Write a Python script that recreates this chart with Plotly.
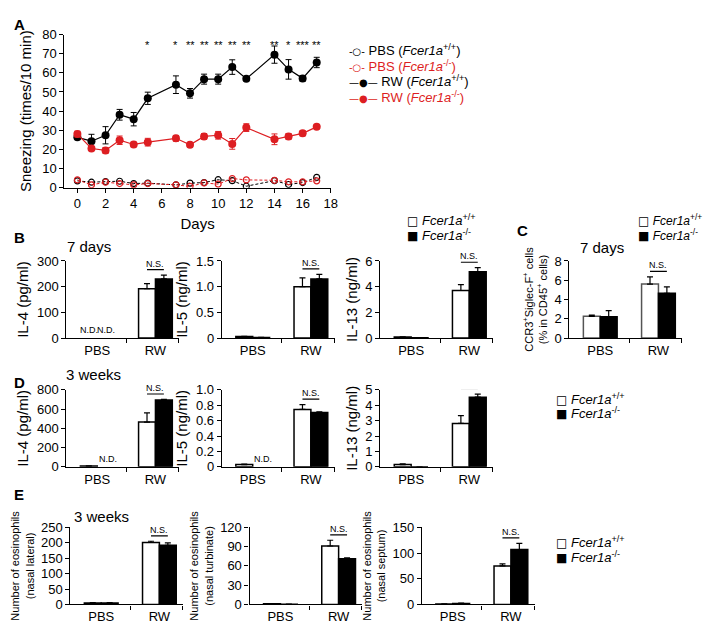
import plotly.graph_objects as go

W, H = 711, 624
FONT = "Liberation Sans, Arial, sans-serif"
RED = "#DD1E22"

# ---------------- Panel A data ----------------
days = [0, 1, 2, 3, 4, 5, 7, 8, 9, 10, 11, 12, 14, 15, 16, 17]
pbs_wt = [3.6, 2.9, 3.2, 3.4, 2.2, 2.4, 1.5, 2.4, 2.7, 4.2, 3.7, 0.8, 3.7, 1.7, 2.7, 5.4]
pbs_ko = [4.1, 1.5, 2.9, 2.2, 1.5, 2.2, 1.5, 0.7, 2.5, 1.9, 4.8, 4.1, 3.9, 3.1, 3.1, 3.6]
rw_wt = [26.3, 24.3, 27.4, 38.1, 35.8, 46.7, 53.8, 49.3, 56.7, 56.7, 63.0, 56.9, 69.5, 61.8, 57.1, 65.4]
rw_wt_err = [1.0, 3.6, 4.5, 2.8, 3.5, 3.2, 4.6, 2.5, 2.6, 2.6, 3.8, 1.0, 4.5, 5.1, 1.5, 2.7]
rw_ko = [28.0, 20.5, 19.5, 24.8, 22.6, 23.8, 25.8, 22.4, 26.8, 27.4, 22.9, 31.4, 25.3, 26.8, 28.4, 31.8]
rw_ko_err = [1.5, 1.0, 1.5, 2.2, 1.2, 2.0, 1.5, 1.2, 1.5, 2.0, 2.8, 2.0, 2.8, 1.5, 1.3, 1.0]
star_days = [5, 7, 8, 9, 10, 11, 12, 14, 15, 16, 17]
star_text = ["*", "*", "**", "**", "**", "**", "**", "**", "*", "***", "**"]
series_labels = ["PBS (<i>Fcer1a</i><sup>+/+</sup>)", "PBS (<i>Fcer1a</i><sup>-/-</sup>)",
                 "RW (<i>Fcer1a</i><sup>+/+</sup>)", "RW (<i>Fcer1a</i><sup>-/-</sup>)"]

# ---------------- Bar panel data ----------------
groups = ["PBS", "RW"]
genotype_labels = ["<i>Fcer1a</i><sup>+/+</sup>", "<i>Fcer1a</i><sup>-/-</sup>"]
il4_7d_wt = [None, 192]; il4_7d_wt_err = [0, 20]
il4_7d_ko = [None, 230]; il4_7d_ko_err = [0, 15]
il5_7d_wt = [0.03, 1.0]; il5_7d_wt_err = [0.005, 0.17]
il5_7d_ko = [0.01, 1.15]; il5_7d_ko_err = [0.003, 0.09]
il13_7d_wt = [0.08, 3.7]; il13_7d_wt_err = [0.01, 0.46]
il13_7d_ko = [0.03, 5.15]; il13_7d_ko_err = [0.005, 0.33]
ccr3_7d_wt = [2.25, 5.6]; ccr3_7d_wt_err = [0.12, 0.75]
ccr3_7d_ko = [2.2, 4.65]; ccr3_7d_ko_err = [0.65, 0.65]
il4_3w_wt = [8, 465]; il4_3w_wt_err = [2, 95]
il4_3w_ko = [None, 695]; il4_3w_ko_err = [0, 5]
il5_3w_wt = [0.03, 0.745]; il5_3w_wt_err = [0.005, 0.063]
il5_3w_ko = [None, 0.705]; il5_3w_ko_err = [0, 0.01]
il13_3w_wt = [0.15, 2.82]; il13_3w_wt_err = [0.05, 0.5]
il13_3w_ko = [0, 4.52]; il13_3w_ko_err = [0, 0.2]
eos_lat_wt = [5, 201]; eos_lat_wt_err = [1, 4]
eos_lat_ko = [5, 192]; eos_lat_ko_err = [1, 8]
eos_turb_wt = [1.0, 91]; eos_turb_wt_err = [0.3, 9]
eos_turb_ko = [0.5, 71]; eos_turb_ko_err = [0.2, 1.5]
eos_sept_wt = [1.0, 75]; eos_sept_wt_err = [0.3, 4]
eos_sept_ko = [2.0, 107]; eos_sept_ko_err = [0.5, 12]

# ---------------- helpers ----------------
def xdom(x0, x1):
    return [x0 / W, x1 / W]

def ydom(top, bottom):
    return [1 - bottom / H, 1 - top / H]

def px_x(x):
    return x / W

def px_y(y):
    return 1 - y / H

fig = go.Figure()
annotations = []
shapes = []

# ---------------- Panel A ----------------
fig.add_trace(go.Scatter(
    x=days, y=pbs_wt, mode="lines+markers", showlegend=False,
    line=dict(color="black", width=1, dash="3px,2px"),
    marker=dict(symbol="circle-open", size=6, color="black", line=dict(width=1.2)),
    xaxis="x", yaxis="y"))
fig.add_trace(go.Scatter(
    x=days, y=pbs_ko, mode="lines+markers", showlegend=False,
    line=dict(color=RED, width=1, dash="3px,2px"),
    marker=dict(symbol="circle-open", size=6, color=RED, line=dict(width=1.2)),
    xaxis="x", yaxis="y"))
fig.add_trace(go.Scatter(
    x=days, y=rw_wt, mode="lines+markers", showlegend=False,
    line=dict(color="black", width=1.2),
    marker=dict(symbol="circle", size=8, color="black"),
    error_y=dict(type="data", array=rw_wt_err, color="black", thickness=1, width=3),
    xaxis="x", yaxis="y"))
fig.add_trace(go.Scatter(
    x=days, y=rw_ko, mode="lines+markers", showlegend=False,
    line=dict(color=RED, width=1.2),
    marker=dict(symbol="circle", size=8, color=RED),
    error_y=dict(type="data", array=rw_ko_err, color=RED, thickness=1, width=3),
    xaxis="x", yaxis="y"))

for d, s in zip(star_days, star_text):
    annotations.append(dict(x=d, y=74.5, xref="x", yref="y", text=s, showarrow=False,
                            font=dict(size=11, family=FONT, color="black"), yanchor="middle"))

layout_axes = {}
layout_axes["xaxis"] = dict(domain=xdom(57, 326), range=[-0.92, 18], anchor="y",
                            tickmode="array", tickvals=list(range(0, 19, 2)),
                            ticks="outside", ticklen=4, tickwidth=1.3, tickcolor="black",
                            showline=True, linecolor="black", linewidth=1.3,
                            showgrid=False, zeroline=False,
                            tickfont=dict(size=13, family=FONT, color="black"),
                            title=dict(text="Days", font=dict(size=15, family=FONT, color="black"),
                                       standoff=8))
layout_axes["yaxis"] = dict(domain=ydom(20, 177), range=[0, 80], anchor="x",
                            tickmode="array", tickvals=list(range(0, 81, 10)),
                            ticks="outside", ticklen=4, tickwidth=1.3, tickcolor="black",
                            showline=True, linecolor="black", linewidth=1.3,
                            showgrid=False, zeroline=False,
                            tickfont=dict(size=13, family=FONT, color="black"),
                            title=dict(text="Sneezing (times/10 min)",
                                       font=dict(size=15, family=FONT, color="black"), standoff=6))

# ---------------- Bar panels ----------------
ROW_B = (252, 331)
ROW_D = (384, 463)
ROW_E = (525, 604)
PANEL_W = 114
BW = 0.29

panels = [
    dict(wt=il4_7d_wt, wte=il4_7d_wt_err, ko=il4_7d_ko, koe=il4_7d_ko_err, ax=59, row=ROW_B,
         ymax=300, tv=[0, 100, 200, 300], tt=["0", "100", "200", "300"],
         title="IL-4 (pg/ml)", ts=15, nd="both", oc="black"),
    dict(wt=il5_7d_wt, wte=il5_7d_wt_err, ko=il5_7d_ko, koe=il5_7d_ko_err, ax=216, row=ROW_B,
         ymax=1.5, tv=[0, 0.5, 1.0, 1.5], tt=["0", "0.5", "1.0", "1.5"],
         title="IL-5 (ng/ml)", ts=15, nd=None, oc="black"),
    dict(wt=il13_7d_wt, wte=il13_7d_wt_err, ko=il13_7d_ko, koe=il13_7d_ko_err, ax=376, row=ROW_B,
         ymax=6, tv=[0, 2, 4, 6], tt=["0", "2", "4", "6"],
         title="IL-13 (ng/ml)", ts=15, nd=None, oc="black"),
    dict(wt=ccr3_7d_wt, wte=ccr3_7d_wt_err, ko=ccr3_7d_ko, koe=ccr3_7d_ko_err, ax=567, row=ROW_B,
         ymax=8, tv=[0, 2, 4, 6, 8], tt=["0", "2", "4", "6", "8"],
         title="CCR3<sup>+</sup>Siglec-F<sup>+</sup> cells<br>(% in CD45<sup>+</sup> cells)",
         ts=11, nd=None, oc="#555555"),
    dict(wt=il4_3w_wt, wte=il4_3w_wt_err, ko=il4_3w_ko, koe=il4_3w_ko_err, ax=59, row=ROW_D,
         ymax=800, tv=[0, 200, 400, 600, 800], tt=["0", "200", "400", "600", "800"],
         title="IL-4 (pg/ml)", ts=15, nd="ko", oc="black"),
    dict(wt=il5_3w_wt, wte=il5_3w_wt_err, ko=il5_3w_ko, koe=il5_3w_ko_err, ax=216, row=ROW_D,
         ymax=1.0, tv=[0, 0.2, 0.4, 0.6, 0.8, 1.0], tt=["0", "0.2", "0.4", "0.6", "0.8", "1.0"],
         title="IL-5 (ng/ml)", ts=15, nd="ko", oc="black"),
    dict(wt=il13_3w_wt, wte=il13_3w_wt_err, ko=il13_3w_ko, koe=il13_3w_ko_err, ax=376, row=ROW_D,
         ymax=5, tv=[0, 1, 2, 3, 4, 5], tt=["0", "1", "2", "3", "4", "5"],
         title="IL-13 (ng/ml)", ts=15, nd=None, oc="black"),
    dict(wt=eos_lat_wt, wte=eos_lat_wt_err, ko=eos_lat_ko, koe=eos_lat_ko_err, ax=63, row=ROW_E,
         ymax=250, tv=[0, 50, 100, 150, 200, 250], tt=["0", "50", "100", "150", "200", "250"],
         title="Number of eosinophils<br>(nasal lateral)", ts=11, nd=None, oc="black"),
    dict(wt=eos_turb_wt, wte=eos_turb_wt_err, ko=eos_turb_ko, koe=eos_turb_ko_err, ax=244, row=ROW_E,
         ymax=120, tv=[0, 30, 60, 90, 120], tt=["0", "30", "60", "90", "120"],
         title="Number of eosinophils<br>(nasal turbinate)", ts=11, nd=None, oc="black"),
    dict(wt=eos_sept_wt, wte=eos_sept_wt_err, ko=eos_sept_ko, koe=eos_sept_ko_err, ax=418, row=ROW_E,
         ymax=150, tv=[0, 50, 100, 150], tt=["0", "50", "100", "150"],
         title="Number of eosinophils<br>(nasal septum)", ts=11, nd=None, oc="black"),
]

xr = [-0.53, 1.41]
for i, p in enumerate(panels):
    n = i + 2
    xa, ya = "x%d" % n, "y%d" % n
    fig.add_trace(go.Bar(
        x=[0, 1], y=p["wt"], offset=-BW, width=BW, showlegend=False,
        marker=dict(color="white", line=dict(color=p["oc"], width=1.5)),
        error_y=dict(type="data", symmetric=False, array=p["wte"], arrayminus=[0, 0],
                     color="black", thickness=1.2, width=3),
        xaxis=xa, yaxis=ya))
    fig.add_trace(go.Bar(
        x=[0, 1], y=p["ko"], offset=0, width=BW, showlegend=False,
        marker=dict(color="black", line=dict(color="black", width=1.5)),
        error_y=dict(type="data", symmetric=False, array=p["koe"], arrayminus=[0, 0],
                     color="black", thickness=1.2, width=3),
        xaxis=xa, yaxis=ya))
    top, bottom = p["row"]
    layout_axes["xaxis%d" % n] = dict(
        domain=xdom(p["ax"], p["ax"] + PANEL_W), range=xr, anchor=ya,
        tickmode="array", tickvals=[0, 1], ticktext=groups, ticks="",
        minor=dict(tickmode="array", tickvals=[0.5, 1.4], ticks="outside", ticklen=4,
                   tickwidth=1.3, tickcolor="black"),
        showline=True, linecolor="black", linewidth=1.3, showgrid=False, zeroline=False,
        tickfont=dict(size=13, family=FONT, color="black"))
    layout_axes["yaxis%d" % n] = dict(
        domain=ydom(top, bottom), range=[0, p["ymax"]], anchor=xa,
        tickmode="array", tickvals=p["tv"], ticktext=p["tt"],
        ticks="outside", ticklen=4, tickwidth=1.3, tickcolor="black",
        showline=True, linecolor="black", linewidth=1.3, showgrid=False, zeroline=False,
        tickfont=dict(size=13, family=FONT, color="black"),
        title=dict(text=p["title"], font=dict(size=p["ts"], family=FONT, color="black"), standoff=4))
    # N.S. bracket over RW
    hi = max(p["wt"][1] + p["wte"][1], p["ko"][1] + p["koe"][1])
    yl = hi + 0.07 * p["ymax"]
    shapes.append(dict(type="line", xref=xa, yref=ya, x0=1 - BW / 2, x1=1 + BW / 2, y0=yl, y1=yl,
                       line=dict(color="black", width=1.2)))
    annotations.append(dict(x=1, y=yl, xref=xa, yref=ya, text="N.S.", showarrow=False,
                            yanchor="bottom", yshift=-1, font=dict(size=9, family=FONT, color="black")))
    if p["nd"] == "both":
        for xo in (-BW / 2, BW / 2):
            annotations.append(dict(x=xo, y=0, xref=xa, yref=ya, text="N.D.", showarrow=False,
                                    yanchor="bottom", yshift=1,
                                    font=dict(size=9, family=FONT, color="black")))
    elif p["nd"] == "ko":
        annotations.append(dict(x=BW / 2 + 0.04, y=0, xref=xa, yref=ya, text="N.D.", showarrow=False,
                                yanchor="bottom", yshift=1,
                                font=dict(size=9, family=FONT, color="black")))

# ---------------- Text labels ----------------
def txt(x, y, s, size, bold=False, xanchor="left", color="black"):
    annotations.append(dict(x=px_x(x), y=px_y(y), xref="paper", yref="paper",
                            text=("<b>%s</b>" % s) if bold else s, showarrow=False,
                            xanchor=xanchor, yanchor="middle",
                            font=dict(size=size, family=FONT, color=color)))

txt(4, 10, "A", 15, bold=True)
txt(4, 228, "B", 15, bold=True)
txt(512, 221, "C", 15, bold=True)
txt(4, 377, "D", 15, bold=True)
txt(4, 491, "E", 15, bold=True)
txt(82, 237, "7 days", 15, xanchor="center")
txt(600, 238, "7 days", 15, xanchor="center")
txt(86, 368, "3 weeks", 15, xanchor="center")
txt(94, 514, "3 weeks", 15, xanchor="center")

# Panel A key (text-drawn)
SYM = '<span style="font-family:DejaVu Sans;font-size:10px">%s</span>'
a_keys = [SYM % "-○-", SYM % "-○-", SYM % "—●—", SYM % "—●—"]
a_cols = ["black", RED, "black", RED]
for k, (sym, lab, col) in enumerate(zip(a_keys, series_labels, a_cols)):
    txt(342, 36 + 16 * k, sym + " " + lab, 13, color=col)

# bar keys (□ / ■)
BOX = '<span style="font-family:DejaVu Sans;font-size:12px">%s</span> '
def bar_key(x, y, size=13):
    txt(x, y, BOX % "□" + genotype_labels[0], size)
    txt(x, y + 15, BOX % "■" + genotype_labels[1], size)

bar_key(401, 210)
bar_key(634, 210, 12)
bar_key(551, 393)
bar_key(551, 540)

fig.update_layout(
    width=W, height=H, margin=dict(l=0, r=0, t=0, b=0),
    paper_bgcolor="white", plot_bgcolor="rgba(0,0,0,0)",
    barmode="overlay", font=dict(family=FONT, color="black"),
    annotations=annotations, shapes=shapes, showlegend=False,
    **layout_axes,
)

fig.write_html("out.html")
